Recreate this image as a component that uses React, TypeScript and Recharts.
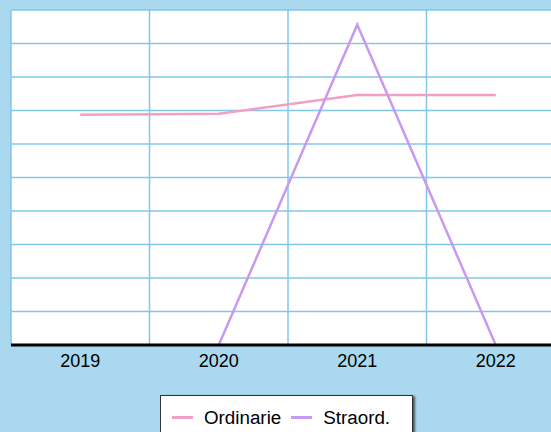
import { CartesianGrid, Legend, Line, LineChart, XAxis, YAxis } from "recharts";

const years = ["2019", "2020", "2021", "2022"];
const ordinarie = [68.7, 69, 74.6, 74.6];
const straord = [null, 0, 95.6, 0];
const yTicks = [0, 10, 20, 30, 40, 50, 60, 70, 80, 90, 100];

const PINK = "#f29fc6";
const PURPLE = "#c79af2";
const GRID = "#82c6e8";
const BG = "#a9d8ef";
const FONT = "'Liberation Sans', Arial, sans-serif";

const data = years.map((year, i) => ({
  year,
  ordinarie: ordinarie[i],
  straord: straord[i],
}));

function LegendBox() {
  const item = (color: string, label: string) => (
    <span style={{ display: "inline-flex", alignItems: "center", marginRight: 10 }}>
      <span style={{ display: "inline-block", width: 21, height: 3, background: color, marginRight: 11 }} />
      <span>{label}</span>
    </span>
  );
  return (
    <div
      style={{
        background: "#fff",
        border: "1px solid #333",
        boxShadow: "2px 1px 2px rgba(0,0,0,0.6)",
        padding: "6px 10px 14px 11px",
        width: 253,
        boxSizing: "border-box",
        fontFamily: FONT,
        fontSize: 18.8,
        color: "#000",
        whiteSpace: "nowrap",
      }}
    >
      {item(PINK, "Ordinarie")}
      {item(PURPLE, "Straord.")}
    </div>
  );
}

// vertical grid lines sit on the category band edges, not on the band centres
const bandEdgeLines = ({ offset }: any) =>
  Array.from({ length: years.length + 1 }, (_, i) => offset.left + (i * offset.width) / years.length);

export default function App() {
  return (
    <div
      style={{
        position: "fixed",
        top: 0,
        left: 0,
        width: 551,
        height: 432,
        overflow: "hidden",
        background: BG,
      }}
    >
      <LineChart
        width={580}
        height={432}
        data={data}
        margin={{ top: 10, right: 15, left: 11, bottom: 57 }}
      >
        <CartesianGrid
          stroke={GRID}
          strokeWidth={1.5}
          fill="#fff"
          verticalCoordinatesGenerator={bandEdgeLines}
        />
        <XAxis
          dataKey="year"
          scale="band"
          axisLine={{ stroke: "#000", strokeWidth: 3 }}
          tickLine={false}
          tick={{ fill: "#000", fontSize: 18, fontFamily: FONT }}
          tickMargin={3}
        />
        <YAxis hide domain={[0, 100]} ticks={yTicks} />
        <Legend
          layout="horizontal"
          verticalAlign="middle"
          align="center"
          wrapperStyle={{ top: 395, left: 160, width: "auto" }}
          content={() => <LegendBox />}
        />
        <Line
          type="linear"
          dataKey="ordinarie"
          name="Ordinarie"
          stroke={PINK}
          strokeWidth={2.5}
          dot={false}
          isAnimationActive={false}
        />
        <Line
          type="linear"
          dataKey="straord"
          name="Straord."
          stroke={PURPLE}
          strokeWidth={2.5}
          dot={false}
          isAnimationActive={false}
        />
      </LineChart>
    </div>
  );
}
